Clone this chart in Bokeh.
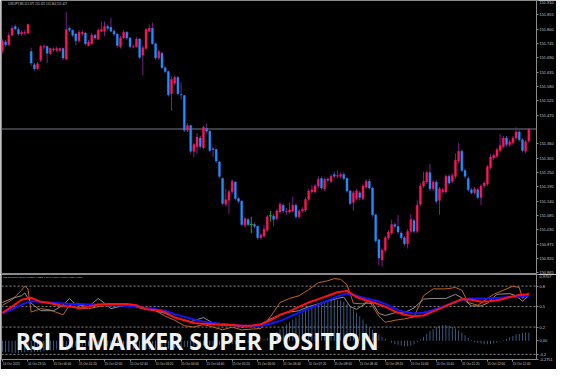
from bokeh.plotting import figure
from bokeh.layouts import column
from bokeh.models import ColumnDataSource, FixedTicker, Span, Label, Range1d, PrintfTickFormatter
from bokeh.embed import file_html
from bokeh.resources import INLINE

# ---------------- data ----------------
symbol_header = "USDJPY,M5  151.371 151.421 151.364 151.417"
indicator_header = "RSI DeMarker Super Position 0.6332 0.7046 0.6789 0.6763 0.6559 0.1188"
watermark = "RSI DEMARKER SUPER POSITION"

opens = [
    151.718, 151.751, 151.740, 151.777, 151.810, 151.799, 151.781, 151.785, 151.785, 151.714,
    151.663, 151.648, 151.681, 151.731, 151.733, 151.707, 151.724, 151.718, 151.718, 151.726,
    151.685, 151.803, 151.796, 151.781, 151.755, 151.781, 151.785, 151.737, 151.744, 151.777,
    151.762, 151.792, 151.792, 151.810, 151.807, 151.792, 151.781, 151.733, 151.766, 151.788,
    151.766, 151.731, 151.733, 151.762, 151.700, 151.726, 151.792, 151.803, 151.744, 151.689,
    151.707, 151.652, 151.637, 151.552, 151.593, 151.615, 151.550, 151.545, 151.412, 151.430,
    151.331, 151.349, 151.382, 151.345, 151.419, 151.408, 151.340, 151.338, 151.290, 151.227,
    151.128, 151.143, 151.176, 151.213, 151.150, 151.139, 151.047, 151.069, 151.050, 151.050,
    151.043, 150.999, 151.006, 151.028, 151.083, 151.083, 151.072, 151.098, 151.124, 151.100,
    151.098, 151.102, 151.124, 151.080, 151.102, 151.106, 151.146, 151.176, 151.176, 151.198,
    151.227, 151.187, 151.224, 151.216, 151.242, 151.235, 151.235, 151.242, 151.227, 151.179,
    151.135, 151.150, 151.172, 151.150, 151.194, 151.216, 151.190, 151.087, 150.991, 150.914,
    150.951, 150.999, 151.017, 151.050, 151.043, 151.017, 150.999, 150.976, 151.024, 151.065,
    151.024, 151.128, 151.198, 151.213, 151.250, 151.187, 151.213, 151.143, 151.176, 151.176,
    151.235, 151.216, 151.235, 151.294, 151.331, 151.257, 151.227, 151.183, 151.172, 151.183,
    151.154, 151.198, 151.205, 151.268, 151.305, 151.312, 151.334, 151.349, 151.382, 151.357,
    151.364, 151.382, 151.405, 151.375, 151.331, 151.371,
]
highs = [
    151.762, 151.759, 151.788, 151.814, 151.818, 151.807, 151.796, 151.796, 151.821, 151.729,
    151.670, 151.674, 151.740, 151.740, 151.737, 151.729, 151.729, 151.733, 151.729, 151.729,
    151.866, 151.810, 151.799, 151.785, 151.796, 151.796, 151.788, 151.759, 151.785, 151.781,
    151.803, 151.829, 151.829, 151.818, 151.844, 151.799, 151.785, 151.774, 151.796, 151.792,
    151.770, 151.740, 151.770, 151.766, 151.737, 151.803, 151.818, 151.825, 151.748, 151.722,
    151.714, 151.659, 151.641, 151.619, 151.622, 151.619, 151.596, 151.548, 151.438, 151.434,
    151.364, 151.401, 151.390, 151.430, 151.438, 151.412, 151.349, 151.342, 151.294, 151.231,
    151.187, 151.183, 151.224, 151.216, 151.154, 151.143, 151.080, 151.076, 151.080, 151.058,
    151.047, 151.017, 151.047, 151.087, 151.102, 151.091, 151.109, 151.135, 151.131, 151.113,
    151.135, 151.157, 151.131, 151.109, 151.117, 151.154, 151.187, 151.202, 151.205, 151.235,
    151.235, 151.231, 151.231, 151.242, 151.253, 151.257, 151.250, 151.250, 151.231, 151.183,
    151.179, 151.187, 151.179, 151.205, 151.224, 151.224, 151.194, 151.091, 150.995, 150.958,
    151.006, 151.028, 151.069, 151.058, 151.087, 151.024, 151.006, 151.032, 151.091, 151.072,
    151.143, 151.209, 151.253, 151.257, 151.283, 151.220, 151.220, 151.194, 151.190, 151.242,
    151.242, 151.246, 151.323, 151.364, 151.338, 151.264, 151.235, 151.190, 151.194, 151.190,
    151.205, 151.216, 151.279, 151.320, 151.323, 151.345, 151.397, 151.390, 151.390, 151.375,
    151.390, 151.423, 151.412, 151.382, 151.375, 151.421,
]
lows = [
    151.707, 151.733, 151.737, 151.774, 151.796, 151.774, 151.774, 151.777, 151.781, 151.659,
    151.641, 151.644, 151.674, 151.722, 151.670, 151.700, 151.714, 151.711, 151.714, 151.681,
    151.681, 151.788, 151.770, 151.737, 151.748, 151.774, 151.737, 151.733, 151.740, 151.759,
    151.759, 151.788, 151.774, 151.796, 151.788, 151.774, 151.729, 151.726, 151.762, 151.759,
    151.726, 151.726, 151.729, 151.685, 151.622, 151.722, 151.788, 151.740, 151.681, 151.681,
    151.648, 151.630, 151.541, 151.486, 151.585, 151.545, 151.530, 151.405, 151.405, 151.323,
    151.309, 151.320, 151.342, 151.338, 151.401, 151.327, 151.309, 151.286, 151.227, 151.124,
    151.120, 151.091, 151.168, 151.143, 151.131, 151.043, 151.039, 151.043, 151.017, 151.036,
    150.991, 150.991, 150.999, 151.021, 151.061, 151.043, 151.065, 151.091, 151.095, 151.087,
    151.091, 151.095, 151.072, 151.072, 151.095, 151.098, 151.139, 151.168, 151.168, 151.190,
    151.183, 151.179, 151.213, 151.209, 151.227, 151.227, 151.227, 151.220, 151.172, 151.124,
    151.102, 151.143, 151.143, 151.143, 151.187, 151.183, 151.080, 150.980, 150.892, 150.888,
    150.943, 150.991, 151.010, 151.036, 151.013, 150.991, 150.969, 150.958, 151.017, 151.017,
    151.017, 151.120, 151.190, 151.205, 151.179, 151.179, 151.131, 151.087, 151.168, 151.168,
    151.202, 151.209, 151.227, 151.286, 151.250, 151.227, 151.176, 151.165, 151.165, 151.146,
    151.124, 151.190, 151.198, 151.261, 151.297, 151.305, 151.327, 151.342, 151.349, 151.349,
    151.357, 151.375, 151.368, 151.327, 151.323, 151.364,
]
closes = [
    151.755, 151.740, 151.777, 151.803, 151.801, 151.781, 151.788, 151.788, 151.818, 151.670,
    151.648, 151.667, 151.733, 151.733, 151.707, 151.726, 151.722, 151.726, 151.726, 151.689,
    151.799, 151.796, 151.777, 151.755, 151.788, 151.788, 151.744, 151.751, 151.777, 151.766,
    151.796, 151.799, 151.810, 151.803, 151.792, 151.781, 151.737, 151.766, 151.788, 151.766,
    151.733, 151.733, 151.762, 151.692, 151.729, 151.799, 151.803, 151.744, 151.689, 151.714,
    151.652, 151.637, 151.548, 151.607, 151.615, 151.552, 151.548, 151.412, 151.430, 151.331,
    151.357, 151.386, 151.349, 151.423, 151.408, 151.334, 151.338, 151.294, 151.235, 151.131,
    151.146, 151.176, 151.216, 151.150, 151.139, 151.050, 151.072, 151.050, 151.050, 151.043,
    150.999, 151.010, 151.032, 151.080, 151.083, 151.069, 151.102, 151.128, 151.102, 151.102,
    151.106, 151.124, 151.080, 151.102, 151.109, 151.146, 151.179, 151.183, 151.198, 151.224,
    151.190, 151.224, 151.220, 151.235, 151.235, 151.238, 151.242, 151.227, 151.179, 151.131,
    151.172, 151.179, 151.154, 151.198, 151.216, 151.190, 151.087, 150.988, 150.921, 150.951,
    150.999, 151.021, 151.050, 151.043, 151.021, 150.999, 150.976, 151.024, 151.069, 151.024,
    151.124, 151.198, 151.216, 151.250, 151.187, 151.213, 151.139, 151.187, 151.183, 151.235,
    151.209, 151.238, 151.297, 151.331, 151.257, 151.235, 151.183, 151.172, 151.187, 151.154,
    151.198, 151.209, 151.272, 151.309, 151.316, 151.338, 151.353, 151.382, 151.357, 151.368,
    151.382, 151.405, 151.375, 151.334, 151.368, 151.417,
]

price_ticks = [151.910, 151.855, 151.800, 151.745, 151.690, 151.635, 151.580, 151.525,
               151.470, 151.360, 151.305, 151.250, 151.195, 151.140, 151.085, 151.030,
               150.975, 150.920, 150.865]

time_tick_index = [0, 8, 16, 24, 32, 40, 48, 56, 64, 72, 80, 88, 96, 104, 112, 120,
                   128, 136, 144, 152, 160]
time_tick_labels = ["14 Oct 2025", "14 Oct 23:55", "15 Oct 00:40", "15 Oct 01:20",
                    "15 Oct 02:00", "15 Oct 02:40", "15 Oct 03:20", "15 Oct 04:00",
                    "15 Oct 04:40", "15 Oct 05:20", "15 Oct 06:00", "15 Oct 06:40",
                    "15 Oct 07:20", "15 Oct 08:00", "15 Oct 08:40", "15 Oct 09:20",
                    "15 Oct 10:00", "15 Oct 10:40", "15 Oct 11:20", "15 Oct 12:00",
                    "15 Oct 12:40"]

smooth_k = list(range(0, 166, 3))
red_line = [0.41, 0.50, 0.60, 0.63, 0.57, 0.55, 0.52, 0.50, 0.48, 0.50,
            0.53, 0.54, 0.54, 0.54, 0.52, 0.46, 0.45, 0.42, 0.34, 0.30,
            0.26, 0.25, 0.24, 0.23, 0.23, 0.22, 0.22, 0.24, 0.30, 0.38,
            0.43, 0.50, 0.56, 0.61, 0.66, 0.71, 0.73, 0.64, 0.59, 0.55,
            0.50, 0.43, 0.38, 0.36, 0.37, 0.43, 0.49, 0.55, 0.61, 0.60,
            0.57, 0.58, 0.60, 0.64, 0.67, 0.68]
blue_line = [0.40, 0.46, 0.53, 0.58, 0.57, 0.56, 0.55, 0.54, 0.54, 0.53,
             0.53, 0.52, 0.52, 0.51, 0.50, 0.48, 0.46, 0.44, 0.39, 0.35,
             0.31, 0.28, 0.26, 0.24, 0.23, 0.22, 0.22, 0.22, 0.25, 0.29,
             0.35, 0.41, 0.47, 0.53, 0.59, 0.65, 0.69, 0.66, 0.62, 0.59,
             0.54, 0.47, 0.42, 0.40, 0.41, 0.45, 0.50, 0.55, 0.60, 0.62,
             0.62, 0.62, 0.63, 0.64, 0.65, 0.66]

orange_k = [0, 3, 6, 7, 8, 9, 12, 15, 19, 21, 24, 27, 30, 34, 39, 42, 45, 48, 51, 54,
            57, 60, 63, 66, 69, 72, 75, 78, 81, 84, 87, 90, 93, 96, 99, 102, 104, 106, 108, 110,
            113, 115, 118, 120, 123, 126, 129, 132, 135, 139, 142, 144, 146, 149, 152, 154, 157, 160, 162, 163,
            165]
orange_line = [0.52, 0.60, 0.74, 0.80, 0.76, 0.42, 0.47, 0.45, 0.38, 0.52, 0.47, 0.47, 0.50, 0.53, 0.53, 0.50, 0.47, 0.44, 0.36, 0.30,
               0.22, 0.20, 0.24, 0.20, 0.16, 0.20, 0.16, 0.17, 0.18, 0.35, 0.56, 0.62, 0.66, 0.75, 0.85, 0.88, 0.91, 0.90, 0.82, 0.55,
               0.54, 0.58, 0.36, 0.27, 0.30, 0.32, 0.35, 0.66, 0.76, 0.76, 0.78, 0.74, 0.56, 0.52, 0.62, 0.68, 0.74, 0.80, 0.78, 0.62,
               0.70]

gray_k = [0, 3, 6, 7, 9, 12, 16, 19, 21, 23, 27, 30, 32, 34, 39, 43, 48, 51, 54, 59,
          63, 66, 71, 75, 80, 84, 87, 90, 93, 96, 99, 102, 105, 107, 109, 111, 114, 116, 118, 120,
          123, 126, 129, 132, 135, 139, 142, 144, 147, 150, 152, 155, 159, 161, 163, 165]
gray_line = [0.56, 0.62, 0.66, 0.70, 0.55, 0.44, 0.44, 0.52, 0.62, 0.53, 0.50, 0.62, 0.55, 0.47, 0.53, 0.48, 0.44, 0.40, 0.34, 0.28,
             0.34, 0.26, 0.24, 0.20, 0.22, 0.32, 0.38, 0.42, 0.44, 0.50, 0.54, 0.58, 0.62, 0.64, 0.50, 0.46, 0.55, 0.55, 0.40, 0.37,
             0.41, 0.41, 0.48, 0.61, 0.62, 0.62, 0.68, 0.63, 0.51, 0.51, 0.55, 0.68, 0.69, 0.66, 0.58, 0.66]

histogram = [
    -0.16, -0.17, -0.17, -0.18, -0.18, -0.18, -0.17, -0.17, -0.16, -0.17,
    -0.17, -0.16, -0.16, -0.15, -0.15, -0.14, -0.14, -0.13, -0.13, -0.12,
    -0.11, -0.10, -0.10, -0.09, -0.09, -0.08, -0.08, -0.08, -0.07, -0.07,
    -0.07, -0.07, -0.07, -0.08, -0.08, -0.09, -0.09, -0.10, -0.10, -0.11,
    -0.11, -0.12, -0.12, -0.12, -0.13, -0.13, -0.13, -0.13, -0.13, -0.13,
    -0.12, -0.12, -0.12, -0.11, -0.11, -0.10, -0.10, -0.09, -0.09, -0.08,
    -0.08, -0.08, -0.07, -0.07, -0.07, -0.07, -0.07, -0.06, -0.06, -0.06,
    -0.06, -0.06, -0.05, -0.05, -0.05, -0.04, -0.04, -0.03, -0.03, -0.02,
    -0.01, 0.00, 0.02, 0.04, 0.07, 0.10, 0.13, 0.17, 0.20, 0.24,
    0.27, 0.31, 0.34, 0.38, 0.41, 0.44, 0.47, 0.50, 0.52, 0.55,
    0.57, 0.58, 0.60, 0.60, 0.61, 0.60, 0.59, 0.57, 0.54, 0.50,
    0.46, 0.41, 0.36, 0.31, 0.25, 0.20, 0.16, 0.12, 0.09, 0.06,
    0.03, 0.00, -0.03, -0.05, -0.06, -0.07, -0.08, -0.08, -0.07, -0.05,
    -0.02, 0.02, 0.06, 0.10, 0.14, 0.17, 0.20, 0.22, 0.23, 0.23,
    0.22, 0.20, 0.18, 0.15, 0.12, 0.08, 0.04, 0.01, -0.02, -0.03,
    -0.04, -0.05, -0.05, -0.05, -0.04, -0.03, -0.01, 0.01, 0.03, 0.05,
    0.07, 0.09, 0.10, 0.11, 0.12, 0.12,
]

levels = [0.8, 0.5, 0.2, -0.2]
ind_ticks = [0.9707, 0.8, 0.5, 0.2, 0.0, -0.2, -0.2751]
ind_tick_labels = ["0.9707", "0.8", "0.5", "0.2", "0.00", "-0.2", "-0.2751"]

# ---------------- styling ----------------
BG = "#000000"
BULL = "#ff145a"
BEAR = "#1e90ff"
DOJI = "#22a022"
WICK = "#7a1f8a"
GRID_GRAY = "#8a8a8a"
LABEL_GRAY = "#c8c8c8"
AXIS_FONT = "Liberation Sans"

W = 556
RIGHT = 18
x_range = Range1d(-0.3, 167.4)


def style(p):
    p.background_fill_color = BG
    p.border_fill_color = BG
    p.grid.visible = False
    p.outline_line_color = GRID_GRAY
    p.outline_line_width = 1


def style_right_axis(ax):
    ax.major_label_text_font_size = "3.9px"
    ax.major_label_text_color = LABEL_GRAY
    ax.major_label_text_font = AXIS_FONT
    ax.major_tick_out = 2
    ax.major_tick_in = 0
    ax.minor_tick_out = 0
    ax.minor_tick_in = 0
    ax.major_tick_line_color = GRID_GRAY
    ax.axis_line_color = None
    ax.major_label_standoff = 1


# ---------------- main price window ----------------
p1 = figure(width=W, height=274, x_range=x_range, y_range=Range1d(150.858, 151.910),
            output_backend="svg", toolbar_location=None, x_axis_location=None,
            y_axis_location="right", min_border_left=1, min_border_right=RIGHT,
            min_border_top=0, min_border_bottom=0)
style(p1)
ax1 = p1.yaxis[0]
ax1.ticker = FixedTicker(ticks=price_ticks)
ax1.formatter = PrintfTickFormatter(format="%.3f")
style_right_axis(ax1)

n = len(opens)
body_color = [BULL if c > o else (BEAR if c < o else DOJI) for o, c in zip(opens, closes)]
wick_color = [DOJI if c == o else WICK for o, c in zip(opens, closes)]
src = ColumnDataSource(dict(
    k=list(range(n)), o=opens, h=highs, l=lows, c=closes,
    top=[max(o, c) for o, c in zip(opens, closes)],
    bottom=[min(o, c) for o, c in zip(opens, closes)],
    body=body_color, wick=wick_color))

p1.add_layout(Span(location=closes[-1], dimension="width", line_color="#4e5358",
                   line_width=1.5, level="underlay"))
p1.segment(x0="k", y0="l", x1="k", y1="h", line_color="wick", line_width=1, source=src)
p1.vbar(x="k", top="top", bottom="bottom", width=0.62, fill_color="body",
        line_color="body", line_width=0.4, source=src)
doji_k = [k for k in range(n) if opens[k] == closes[k]]
p1.scatter(x=doji_k, y=[opens[k] for k in doji_k], marker="dash", size=3,
           line_color=DOJI, line_width=1)

p1.add_layout(Label(x=x_range.end, y=closes[-1], x_offset=2, text="%.3f" % closes[-1],
                    text_font=AXIS_FONT, text_font_size="3.9px", text_color="#000000",
                    text_baseline="middle", text_align="left",
                    background_fill_color="#c8c8c8"))
p1.add_layout(Label(x=1.8, y=p1.y_range.end, y_offset=-1.5, text=symbol_header,
                    text_font=AXIS_FONT, text_font_size="2.8px", text_color=LABEL_GRAY,
                    text_baseline="top", text_align="left"))

# ---------------- indicator window ----------------
p2 = figure(width=W, height=95, x_range=x_range, y_range=Range1d(-0.2751, 0.9707),
            output_backend="svg", toolbar_location=None, y_axis_location="right",
            min_border_left=1, min_border_right=RIGHT, min_border_top=0,
            min_border_bottom=10)
style(p2)
ax2 = p2.yaxis[0]
ax2.ticker = FixedTicker(ticks=ind_ticks)
ax2.major_label_overrides = {t: s for t, s in zip(ind_ticks, ind_tick_labels)}
style_right_axis(ax2)

label_shift = 2.75
xa = p2.xaxis[0]
xa.ticker = FixedTicker(ticks=[k + label_shift for k in time_tick_index],
                        minor_ticks=time_tick_index)
xa.major_label_overrides = {k + label_shift: s for k, s in zip(time_tick_index, time_tick_labels)}
xa.major_label_text_font_size = "3.1px"
xa.major_label_text_font = AXIS_FONT
xa.major_label_text_color = LABEL_GRAY
xa.major_tick_out = 0
xa.major_tick_in = 0
xa.minor_tick_out = 2
xa.minor_tick_in = 0
xa.minor_tick_line_color = GRID_GRAY
xa.axis_line_color = None
xa.major_label_standoff = 1

for lv in levels:
    p2.add_layout(Span(location=lv, dimension="width", line_color="#8c8c8c",
                       line_dash="2 2", line_width=1, level="underlay"))

p2.vbar(x=list(range(len(histogram))), top=histogram, bottom=0, width=0.26,
        fill_color="#3f6c98", line_color=None)
p2.line(orange_k, orange_line, line_color="#c0661a", line_width=1)
p2.line(gray_k, gray_line, line_color="#8f8f8f", line_width=1)
p2.line(smooth_k, blue_line, line_color="#1414ff", line_width=2)
p2.line(smooth_k, red_line, line_color="#ff1010", line_width=2)

p2.add_layout(Label(x=0.3, y=p2.y_range.end, y_offset=-1.5, text=indicator_header,
                    text_font=AXIS_FONT, text_font_size="2.4px", text_color=LABEL_GRAY,
                    text_baseline="top", text_align="left"))
p2.add_layout(Label(x=4.2, y=0.0, text=watermark, text_font="Open Sans",
                    text_font_style="bold", text_font_size="23px", text_color="#f0f0f0",
                    text_baseline="alphabetic", text_align="left"))

layout = column(p1, p2)
open("out.html", "w").write(file_html(layout, INLINE))
